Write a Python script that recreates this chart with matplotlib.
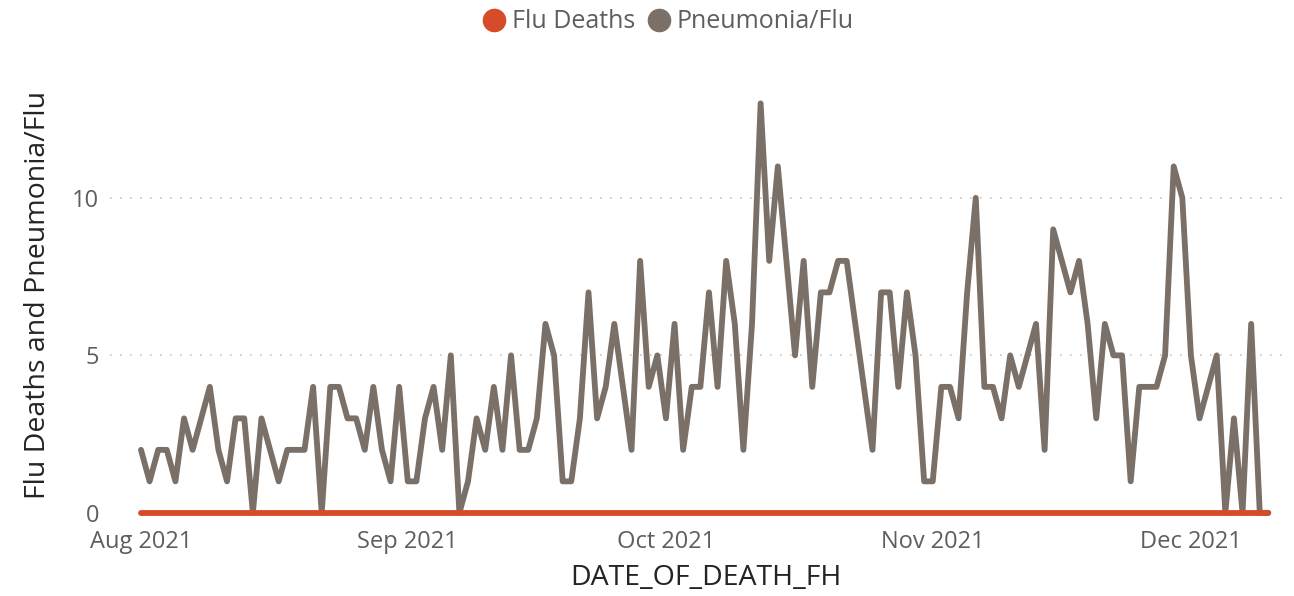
import numpy as np
import pandas as pd
import matplotlib
matplotlib.use('Agg')
import matplotlib.pyplot as plt
import matplotlib.dates as mdates
from matplotlib.lines import Line2D

# daily counts, Aug 1 2021 .. Dec 10 2021
aug = [2, 1, 2, 2, 1, 3, 2, 3, 4, 2, 1, 3, 3, 0, 3, 2, 1, 2, 2, 2, 4, 0, 4, 4, 3, 3, 2, 4, 2, 1, 4]
sep = [1, 1, 3, 4, 2, 5, 0, 1, 3, 2, 4, 2, 5, 2, 2, 3, 6, 5, 1, 1, 3, 7, 3, 4, 6, 4, 2, 8, 4, 5]
oct_ = [3, 6, 2, 4, 4, 7, 4, 8, 6, 2, 6, 13, 8, 11, 8, 5, 8, 4, 7, 7, 8, 8, 6, 4, 2, 7, 7, 4, 7, 5, 1]
nov = [1, 4, 4, 3, 7, 10, 4, 4, 3, 5, 4, 5, 6, 2, 9, 8, 7, 8, 6, 3, 6, 5, 5, 1, 4, 4, 4, 5, 11, 10]
dec = [5, 3, 4, 5, 0, 3, 0, 6, 0, 0]

pneumonia_flu = aug + sep + oct_ + nov + dec
dates = pd.date_range('2021-08-01', periods=len(pneumonia_flu), freq='D')
flu_deaths = [0] * len(pneumonia_flu)

c_flu = '#D64B28'
c_pneu = '#7A7068'
font = ['Open Sans', 'DejaVu Sans']
plt.rcParams['font.family'] = font

fig = plt.figure(figsize=(12.94, 5.96), dpi=100)
W, H = 1294, 596
ax = fig.add_axes([110 / W, 1 - 516 / H, (1283 - 110) / W, (516 - 70) / H])

ax.plot(dates, pneumonia_flu, color=c_pneu, lw=4.2, solid_capstyle='round',
        solid_joinstyle='round', clip_on=False, zorder=3)
ax.plot(dates, flu_deaths, color=c_flu, lw=4.2, solid_capstyle='round',
        clip_on=False, zorder=4)

ax.set_xlim(pd.Timestamp('2021-08-01') - pd.Timedelta(days=3.6),
            pd.Timestamp('2021-12-01') + pd.Timedelta(days=10.7))
ax.set_ylim(-0.1, 14.06)

ax.xaxis.set_major_locator(mdates.MonthLocator())
ax.xaxis.set_major_formatter(mdates.DateFormatter('%b %Y'))
ax.set_yticks([0, 5, 10])
ax.tick_params(length=0, labelsize=17, labelcolor='#605E5C')
ax.tick_params(axis='x', pad=10)
ax.tick_params(axis='y', pad=8)

for v in [5, 10]:
    ax.axhline(v, color='#C8C6C4', lw=1.2, ls=(0, (1, 5)), zorder=1)

for s in ax.spines.values():
    s.set_visible(False)

fig.text(706 / W, 1 - 578 / H, 'DATE_OF_DEATH_FH', fontsize=20.5, color='#252423',
         ha='center', va='center')
fig.text(38 / W, 1 - 295 / H, 'Flu Deaths and Pneumonia/Flu', fontsize=20.5,
         color='#252423', ha='center', va='center', rotation=90)

handles = [Line2D([], [], ls='none', marker='o', ms=16, color=c_flu),
           Line2D([], [], ls='none', marker='o', ms=16, color=c_pneu)]
fig.legend(handles, ['Flu Deaths', 'Pneumonia/Flu'], loc='center',
           bbox_to_anchor=(668 / W, 1 - 22 / H), ncol=2, frameon=False, fontsize=18,
           labelcolor='#605E5C', handlelength=0.9, handletextpad=0.25,
           columnspacing=0.5, borderaxespad=0.0)

fig.savefig('out.png', dpi=100)
